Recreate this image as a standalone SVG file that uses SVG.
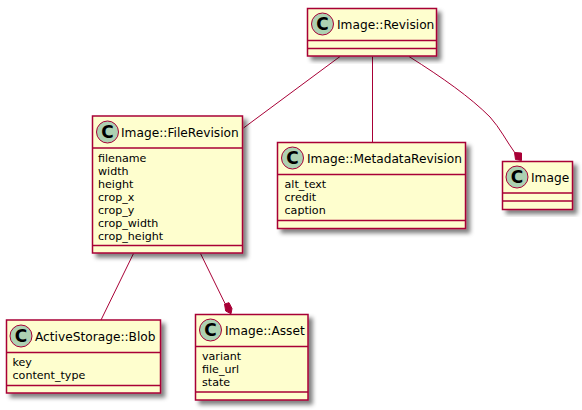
<svg xmlns="http://www.w3.org/2000/svg" width="582" height="410" viewBox="0 0 582 410">
<style>
.box{fill:#FEFECE;stroke:#A80036;stroke-width:1.5;filter:url(#sh)}
.div{stroke:#A80036;stroke-width:1.5;fill:none}
.spot{fill:#ADD1B2;stroke:#A80036;stroke-width:1}
.c{font-family:"DejaVu Sans",sans-serif;font-size:17px;font-weight:bold;fill:#000;text-anchor:middle}
.t{font-family:"DejaVu Sans",sans-serif;font-size:12.2px;fill:#000}
.n{font-family:"DejaVu Sans",sans-serif;font-size:11.1px;fill:#000}
.l{stroke:#A80036;stroke-width:1;fill:none}
.d{fill:#A80036;stroke:#A80036;stroke-width:1}
</style>
<defs>
<filter id="sh" x="-10%" y="-10%" width="125%" height="125%"><feGaussianBlur stdDeviation="2"/><feColorMatrix type="matrix" values="0 0 0 0 0 0 0 0 0 0 0 0 0 0 0 0 0 0 0.5 0"/><feOffset dx="4" dy="4"/><feMerge><feMergeNode/><feMergeNode in="SourceGraphic"/></feMerge></filter>
</defs>
<g id="connectors">
<path class="l" d="M340 56.500L243.500 128"/>
<path class="l" d="M372.500 56.500V142.500"/>
<path class="l" d="M409 56.500C443 78 470 97 490 117C500 128 507 142 514.700 152.500"/>
<polygon class="d" points="514.500,152.500 521.500,153 521.500,160.500 515.500,159.500"/>
<path class="l" d="M133.500 253.500L101 320"/>
<path class="l" d="M200.500 253.500L225 303.500"/>
<polygon class="d" points="224.500,304 229,302.700 232,308.500 231,313.800 225.700,311"/>
</g>
<g id="revision">
<rect class="box" x="307.500" y="8.500" width="129" height="47.500"/>
<path class="div" d="M307.500 40.500H436.500M307.500 48.500H436.500"/>
<circle class="spot" cx="322.500" cy="24" r="11"/><text class="c" x="322.500" y="30">C</text>
<text class="t" x="337" y="28.500">Image::Revision</text>
</g>
<g id="filerevision">
<rect class="box" x="92.500" y="116" width="150" height="137"/>
<path class="div" d="M92.500 148H242.500M92.500 245.500H242.500"/>
<circle class="spot" cx="107.500" cy="132" r="11"/><text class="c" x="107.500" y="138">C</text>
<text class="t" x="121" y="136.500">Image::FileRevision</text>
<text class="n" x="98" y="162">filename</text>
<text class="n" x="98" y="175">width</text>
<text class="n" x="98" y="188">height</text>
<text class="n" x="98" y="201">crop_x</text>
<text class="n" x="98" y="214">crop_y</text>
<text class="n" x="98" y="227">crop_width</text>
<text class="n" x="98" y="240">crop_height</text>
</g>
<g id="metadatarevision">
<rect class="box" x="277.500" y="142.500" width="188" height="86"/>
<path class="div" d="M277.500 174.500H465.500M277.500 220.500H465.500"/>
<circle class="spot" cx="292.500" cy="158" r="11"/><text class="c" x="292.500" y="164">C</text>
<text class="t" x="307" y="162.500">Image::MetadataRevision</text>
<text class="n" x="284.500" y="188">alt_text</text>
<text class="n" x="284.500" y="201">credit</text>
<text class="n" x="284.500" y="214">caption</text>
</g>
<g id="image">
<rect class="box" x="502.500" y="161.500" width="70" height="48"/>
<path class="div" d="M502.500 193H572.500M502.500 201H572.500"/>
<circle class="spot" cx="517" cy="177" r="11"/><text class="c" x="517" y="183">C</text>
<text class="t" x="531" y="181.500">Image</text>
</g>
<g id="blob">
<rect class="box" x="6.500" y="320" width="154" height="73"/>
<path class="div" d="M6.500 352.500H160.500M6.500 385.500H160.500"/>
<circle class="spot" cx="21" cy="336" r="11"/><text class="c" x="21" y="342">C</text>
<text class="t" x="35" y="340.500">ActiveStorage::Blob</text>
<text class="n" x="12.500" y="366">key</text>
<text class="n" x="12.500" y="379">content_type</text>
</g>
<g id="asset">
<rect class="box" x="195.500" y="314.500" width="112.500" height="85.500"/>
<path class="div" d="M195.500 346.500H308M195.500 392H308"/>
<circle class="spot" cx="210.500" cy="330" r="11"/><text class="c" x="210.500" y="336">C</text>
<text class="t" x="225" y="334.500">Image::Asset</text>
<text class="n" x="202" y="359.500">variant</text>
<text class="n" x="202" y="372.500">file_url</text>
<text class="n" x="202" y="385.500">state</text>
</g>
</svg>
